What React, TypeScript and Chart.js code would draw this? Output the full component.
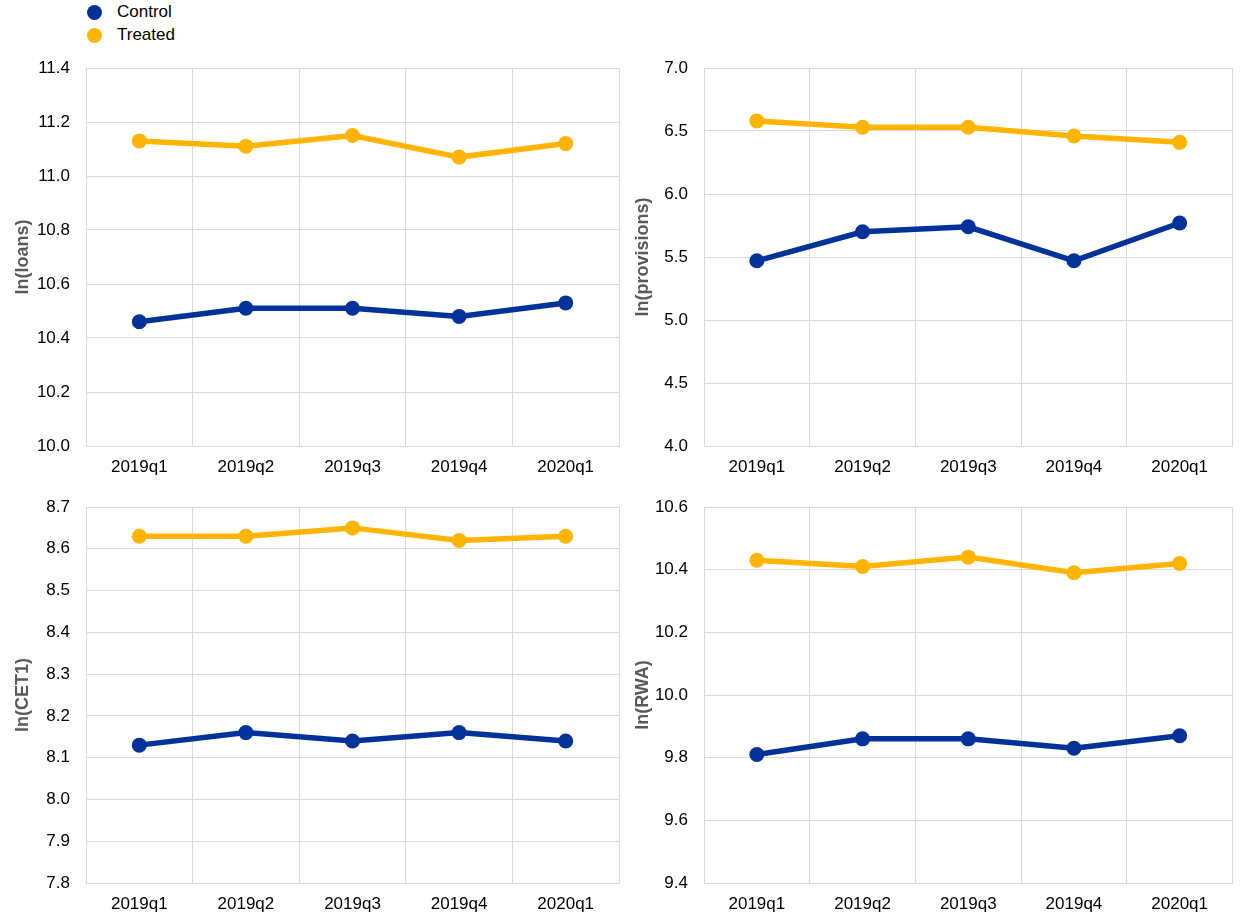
import React, { useEffect, useRef } from "react";
import { Chart, registerables } from "chart.js";

Chart.register(...registerables);

const categories = ["2019q1", "2019q2", "2019q3", "2019q4", "2020q1"];

const loansControl = [10.46, 10.51, 10.51, 10.48, 10.53];
const loansTreated = [11.13, 11.11, 11.15, 11.07, 11.12];

const provisionsControl = [5.47, 5.7, 5.74, 5.47, 5.77];
const provisionsTreated = [6.58, 6.53, 6.53, 6.46, 6.41];

const cet1Control = [8.13, 8.16, 8.14, 8.16, 8.14];
const cet1Treated = [8.63, 8.63, 8.65, 8.62, 8.63];

const rwaControl = [9.81, 9.86, 9.86, 9.83, 9.87];
const rwaTreated = [10.43, 10.41, 10.44, 10.39, 10.42];

const seriesNames = ["Control", "Treated"];
const BLUE = "#003299";
const YELLOW = "#FFB400";
const GRID = "#d9d9d9";
const FONT = "'Liberation Sans', Arial, sans-serif";

type PanelProps = {
  title: string;
  control: number[];
  treated: number[];
  min: number;
  max: number;
  step: number;
  left: number;
  top: number;
  width: number;
  height: number;
  plotLeft: number;
  plotTop: number;
  plotRight: number;
  plotBottom: number;
};

function Panel(p: PanelProps) {
  const ref = useRef<HTMLCanvasElement | null>(null);
  useEffect(() => {
    if (!ref.current) return;
    const yWidth = p.plotLeft - p.left;
    const xHeight = p.top + p.height - p.plotBottom;
    const chart = new Chart(ref.current, {
      type: "line",
      data: {
        labels: categories,
        datasets: [
          {
            label: seriesNames[0],
            data: p.control,
            borderColor: BLUE,
            backgroundColor: BLUE,
            borderWidth: 5.5,
            pointRadius: 7.5,
            pointHoverRadius: 7.5,
            pointBorderWidth: 0,
            tension: 0,
          },
          {
            label: seriesNames[1],
            data: p.treated,
            borderColor: YELLOW,
            backgroundColor: YELLOW,
            borderWidth: 5.5,
            pointRadius: 7.5,
            pointHoverRadius: 7.5,
            pointBorderWidth: 0,
            tension: 0,
          },
        ],
      },
      options: {
        animation: false,
        responsive: false,
        maintainAspectRatio: false,
        devicePixelRatio: 1,
        layout: {
          padding: {
            left: 0,
            top: p.plotTop - p.top,
            right: p.left + p.width - p.plotRight,
            bottom: 0,
          },
        },
        plugins: {
          legend: { display: false },
          tooltip: { enabled: false },
        },
        scales: {
          x: {
            offset: true,
            grid: { offset: true, color: GRID, drawTicks: false, lineWidth: 1 },
            border: { display: true, color: GRID, width: 1 },
            ticks: {
              color: "#000",
              padding: 11,
              maxRotation: 0,
              font: { family: FONT, size: 17 },
            },
            afterFit: (scale: any) => {
              scale.height = xHeight;
              scale.paddingLeft = 0;
              scale.paddingRight = 0;
            },
          },
          y: {
            min: p.min,
            max: p.max,
            grid: { color: GRID, drawTicks: false, lineWidth: 1 },
            border: { display: true, color: GRID, width: 1 },
            ticks: {
              stepSize: p.step,
              color: "#000",
              padding: 16,
              font: { family: FONT, size: 17 },
              callback: (v: any) => Number(v).toFixed(1),
            },
            title: {
              display: true,
              text: p.title,
              color: "#595959",
              font: { family: FONT, size: 18, weight: "bold" },
              padding: { top: 12, bottom: 0 },
            },
            afterFit: (scale: any) => {
              scale.width = yWidth;
              scale.paddingTop = 0;
              scale.paddingBottom = 0;
            },
          },
        },
      },
    });
    return () => chart.destroy();
  }, []);
  return (
    <canvas
      ref={ref}
      width={p.width}
      height={p.height}
      style={{
        position: "absolute",
        left: p.left,
        top: p.top,
        width: p.width,
        height: p.height,
      }}
    />
  );
}

function LegendItem({ color, label, top }: { color: string; label: string; top: number }) {
  return (
    <div
      style={{
        position: "absolute",
        left: 87,
        top,
        height: 20,
        display: "flex",
        alignItems: "center",
        fontFamily: FONT,
        fontSize: 17,
        color: "#000",
        whiteSpace: "nowrap",
      }}
    >
      <span
        style={{
          display: "inline-block",
          width: 15,
          height: 15,
          borderRadius: 8,
          background: color,
          marginRight: 15,
        }}
      />
      <span>{label}</span>
    </div>
  );
}

export default function App() {
  return (
    <div
      style={{
        position: "absolute",
        left: 0,
        top: 0,
        width: 1240,
        height: 923,
        background: "#fff",
        overflow: "hidden",
      }}
    >
      <LegendItem color={BLUE} label={seriesNames[0]} top={2} />
      <LegendItem color={YELLOW} label={seriesNames[1]} top={25} />
      <Panel
        title="ln(loans)"
        control={loansControl}
        treated={loansTreated}
        min={10}
        max={11.4}
        step={0.2}
        left={0}
        top={50}
        width={640}
        height={440}
        plotLeft={86}
        plotTop={68}
        plotRight={619}
        plotBottom={446}
      />
      <Panel
        title="ln(provisions)"
        control={provisionsControl}
        treated={provisionsTreated}
        min={4}
        max={7}
        step={0.5}
        left={620}
        top={50}
        width={620}
        height={440}
        plotLeft={704}
        plotTop={68}
        plotRight={1236}
        plotBottom={446}
      />
      <Panel
        title="ln(CET1)"
        control={cet1Control}
        treated={cet1Treated}
        min={7.8}
        max={8.7}
        step={0.1}
        left={0}
        top={490}
        width={640}
        height={433}
        plotLeft={86}
        plotTop={507}
        plotRight={619}
        plotBottom={883}
      />
      <Panel
        title="ln(RWA)"
        control={rwaControl}
        treated={rwaTreated}
        min={9.4}
        max={10.6}
        step={0.2}
        left={620}
        top={490}
        width={620}
        height={433}
        plotLeft={704}
        plotTop={507}
        plotRight={1236}
        plotBottom={883}
      />
    </div>
  );
}
